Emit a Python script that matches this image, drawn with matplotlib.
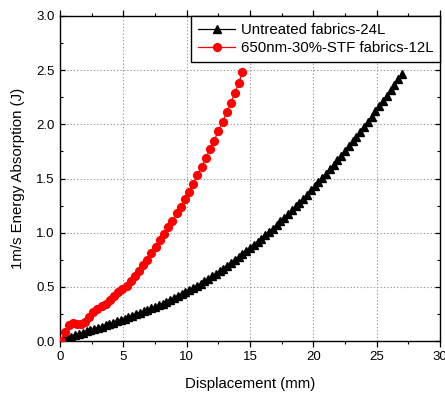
import matplotlib
matplotlib.use("Agg")
import matplotlib.pyplot as plt
from matplotlib.ticker import MultipleLocator, FormatStrFormatter

plt.rcParams['font.family'] = ['Liberation Sans', 'DejaVu Sans']

# Untreated fabrics, 24 layers
untreated_x = [
    0.0, 0.3, 0.6, 0.9, 1.2, 1.5, 1.8, 2.1, 2.4, 2.7,
    3.0, 3.3, 3.6, 3.9, 4.2, 4.5, 4.8, 5.1, 5.4, 5.7,
    6.0, 6.3, 6.6, 6.9, 7.2, 7.5, 7.8, 8.1, 8.4, 8.7,
    9.0, 9.3, 9.6, 9.9, 10.2, 10.5, 10.8, 11.1, 11.4, 11.7,
    12.0, 12.3, 12.6, 12.9, 13.2, 13.5, 13.8, 14.1, 14.4, 14.7,
    15.0, 15.3, 15.6, 15.9, 16.2, 16.5, 16.8, 17.1, 17.4, 17.7,
    18.0, 18.3, 18.6, 18.9, 19.2, 19.5, 19.8, 20.1, 20.4, 20.7,
    21.0, 21.3, 21.6, 21.9, 22.2, 22.5, 22.8, 23.1, 23.4, 23.7,
    24.0, 24.3, 24.6, 24.9, 25.2, 25.5, 25.8, 26.1, 26.4, 26.7,
    27.0,
]
untreated_e = [
    0.000, 0.014, 0.028, 0.041, 0.054, 0.066, 0.078, 0.089, 0.100, 0.111,
    0.122, 0.133, 0.145, 0.157, 0.169, 0.181, 0.194, 0.207, 0.220, 0.233,
    0.246, 0.259, 0.273, 0.287, 0.301, 0.316, 0.331, 0.346, 0.362, 0.378,
    0.395, 0.412, 0.430, 0.449, 0.468, 0.488, 0.508, 0.529, 0.551, 0.573,
    0.596, 0.619, 0.643, 0.668, 0.693, 0.718, 0.745, 0.771, 0.799, 0.827,
    0.855, 0.884, 0.914, 0.944, 0.975, 1.006, 1.038, 1.071, 1.104, 1.138,
    1.172, 1.207, 1.242, 1.278, 1.315, 1.352, 1.390, 1.428, 1.467, 1.506,
    1.546, 1.587, 1.628, 1.670, 1.712, 1.755, 1.799, 1.843, 1.887, 1.932,
    1.978, 2.025, 2.072, 2.119, 2.167, 2.216, 2.265, 2.315, 2.365, 2.416,
    2.468,
]

# 650nm-30%-STF treated fabrics, 12 layers
stf_x = [
    0.05, 0.36, 0.68, 1.00, 1.32, 1.65, 1.97, 2.30, 2.62, 2.95,
    3.28, 3.60, 3.93, 4.26, 4.59, 4.92, 5.25, 5.58, 5.90, 6.23,
    6.56, 6.89, 7.22, 7.55, 7.88, 8.21, 8.54, 8.87, 9.20, 9.53,
    9.86, 10.19, 10.52, 10.85, 11.18, 11.51, 11.84, 12.17, 12.50, 12.83,
    13.16, 13.49, 13.82, 14.10, 14.40,
]
stf_e = [
    0.00, 0.08, 0.15, 0.17, 0.16, 0.16, 0.18, 0.22, 0.27, 0.30,
    0.32, 0.34, 0.38, 0.42, 0.45, 0.48, 0.51, 0.55, 0.60, 0.65,
    0.70, 0.75, 0.81, 0.87, 0.93, 0.99, 1.05, 1.11, 1.18, 1.24,
    1.31, 1.38, 1.45, 1.53, 1.61, 1.69, 1.77, 1.85, 1.94, 2.02,
    2.11, 2.20, 2.29, 2.38, 2.48,
]

labels = ["Untreated fabrics-24L", "650nm-30%-STF fabrics-12L"]
x_label = "Displacement (mm)"
y_label = "1m/s Energy Absorption (J)"

fig = plt.figure(figsize=(4.45, 3.99), dpi=100)
ax = fig.add_axes([60 / 445, 1 - 341 / 399, 380 / 445, 325 / 399])

ax.plot(untreated_x, untreated_e, color='black', marker='^', markersize=6.0,
        linewidth=0.9, label=labels[0], zorder=3)
ax.plot(stf_x, stf_e, color='#ff0000', marker='o', markersize=5.6,
        linewidth=0.9, label=labels[1], zorder=3)

ax.set_xlim(0, 30)
ax.set_ylim(0, 3.0)
ax.xaxis.set_major_locator(MultipleLocator(5))
ax.xaxis.set_minor_locator(MultipleLocator(2.5))
ax.yaxis.set_major_locator(MultipleLocator(0.5))
ax.yaxis.set_minor_locator(MultipleLocator(0.25))
ax.yaxis.set_major_formatter(FormatStrFormatter('%.1f'))

ax.grid(True, which='major', color='#9a9a9a', linestyle=(0, (1.2, 1.8)),
        linewidth=0.8)
ax.set_axisbelow(True)

for s in ax.spines.values():
    s.set_linewidth(1.0)
    s.set_color('black')

ax.tick_params(axis='x', which='major', direction='out', length=4.5, width=0.9,
               labelsize=9.5, pad=3, top=True)
ax.tick_params(axis='x', which='minor', direction='out', length=2.5, width=0.8,
               top=True)
ax.tick_params(axis='y', which='major', direction='in', length=3.5, width=0.9,
               labelsize=9.5, pad=4, right=True)
ax.tick_params(axis='y', which='minor', direction='in', length=2.5, width=0.8,
               right=True)

ax.set_xlabel(x_label, fontsize=10.8, labelpad=10)
ax.set_ylabel(y_label, fontsize=10.8, labelpad=8)

leg = ax.legend(loc='upper right', fontsize=10.8, frameon=True, fancybox=False,
                borderaxespad=0.0, handlelength=2.5, handletextpad=0.35,
                borderpad=0.45, labelspacing=0.3)
leg.get_frame().set_edgecolor('black')
leg.get_frame().set_linewidth(1.0)
leg.get_frame().set_alpha(1.0)

fig.savefig("out.png", dpi=100)
